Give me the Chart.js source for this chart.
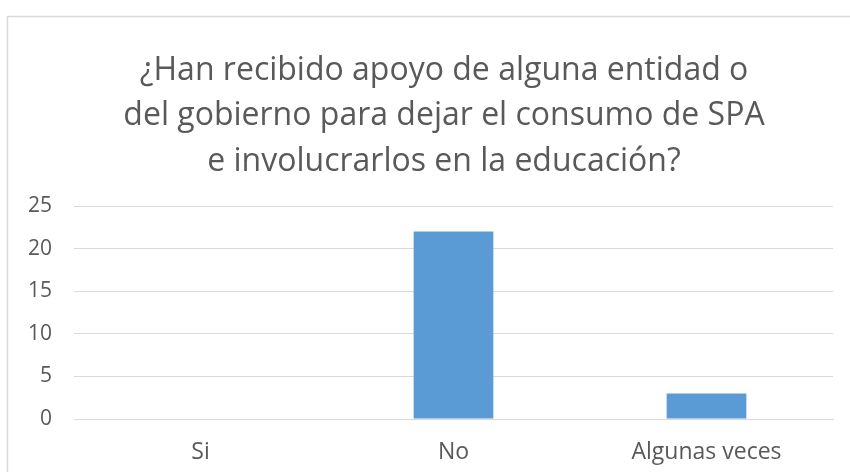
<!DOCTYPE html>
<html>
<head>
<meta charset="utf-8">
<script src="https://cdn.jsdelivr.net/npm/chart.js@4/dist/chart.umd.min.js"></script>
<style>
  html, body { margin: 0; padding: 0; background: #ffffff; overflow: hidden; }
  #wrap { position: absolute; left: 0; top: 0; width: 850px; height: 472px; }
</style>
</head>
<body>
<div id="wrap"><canvas id="c" width="850" height="472"></canvas></div>
<script>
const categories = ['Si', 'No', 'Algunas veces'];
const respuestas = [0, 22, 3];
const titleLines = [
  '¿Han recibido apoyo de alguna entidad o',
  'del gobierno para dejar el consumo de SPA',
  'e involucrarlos en la educación?'
];
const yTicks = { min: 0, max: 25, step: 5 };

const FONT = "'Open Sans', sans-serif";
const TEXT = '#595959';
const GRID = '#d9d9d9';

const frame = {
  id: 'frame',
  beforeDraw(chart) {
    const ctx = chart.ctx;
    ctx.save();
    ctx.fillStyle = '#ffffff';
    ctx.fillRect(0, 0, chart.width, chart.height);
    ctx.strokeStyle = GRID;
    ctx.lineWidth = 1.5;
    ctx.beginPath();
    ctx.moveTo(7.5, chart.height + 5);
    ctx.lineTo(7.5, 16.5);
    ctx.lineTo(chart.width + 5, 16.5);
    ctx.stroke();
    ctx.restore();
  },
  afterLayout(chart) {
    // centre the title over the chart frame (which extends past the right edge)
    const t = chart.titleBlock;
    if (t) { t.left = 55; t.right = 833; }
  }
};

new Chart(document.getElementById('c'), {
  type: 'bar',
  data: {
    labels: categories,
    datasets: [{
      data: respuestas,
      backgroundColor: '#5B9BD5',
      borderWidth: 0,
      categoryPercentage: 1,
      barPercentage: 0.315
    }]
  },
  options: {
    responsive: false,
    animation: false,
    devicePixelRatio: 1,
    layout: { padding: { left: 7, right: 17, top: 0, bottom: 0 } },
    plugins: {
      legend: { display: false },
      tooltip: { enabled: false },
      title: {
        display: true,
        text: titleLines,
        color: TEXT,
        font: { family: FONT, size: 32, weight: 'normal', lineHeight: '45.5px' },
        padding: { top: 48, bottom: 21.5 }
      }
    },
    scales: {
      x: {
        grid: { display: false, drawTicks: false },
        border: { display: true, color: GRID, width: 1 },
        ticks: { color: TEXT, font: { family: FONT, size: 23 }, padding: 20, maxRotation: 0 },
        afterFit(scale) { scale.height = 53; }
      },
      y: {
        min: yTicks.min,
        max: yTicks.max,
        grid: { color: GRID, lineWidth: 1, drawTicks: false },
        border: { display: false },
        ticks: { stepSize: yTicks.step, color: TEXT, font: { family: FONT, size: 21 }, padding: 22 },
        afterFit(scale) { scale.width = 67; }
      }
    }
  },
  plugins: [frame]
});
</script>
</body>
</html>
